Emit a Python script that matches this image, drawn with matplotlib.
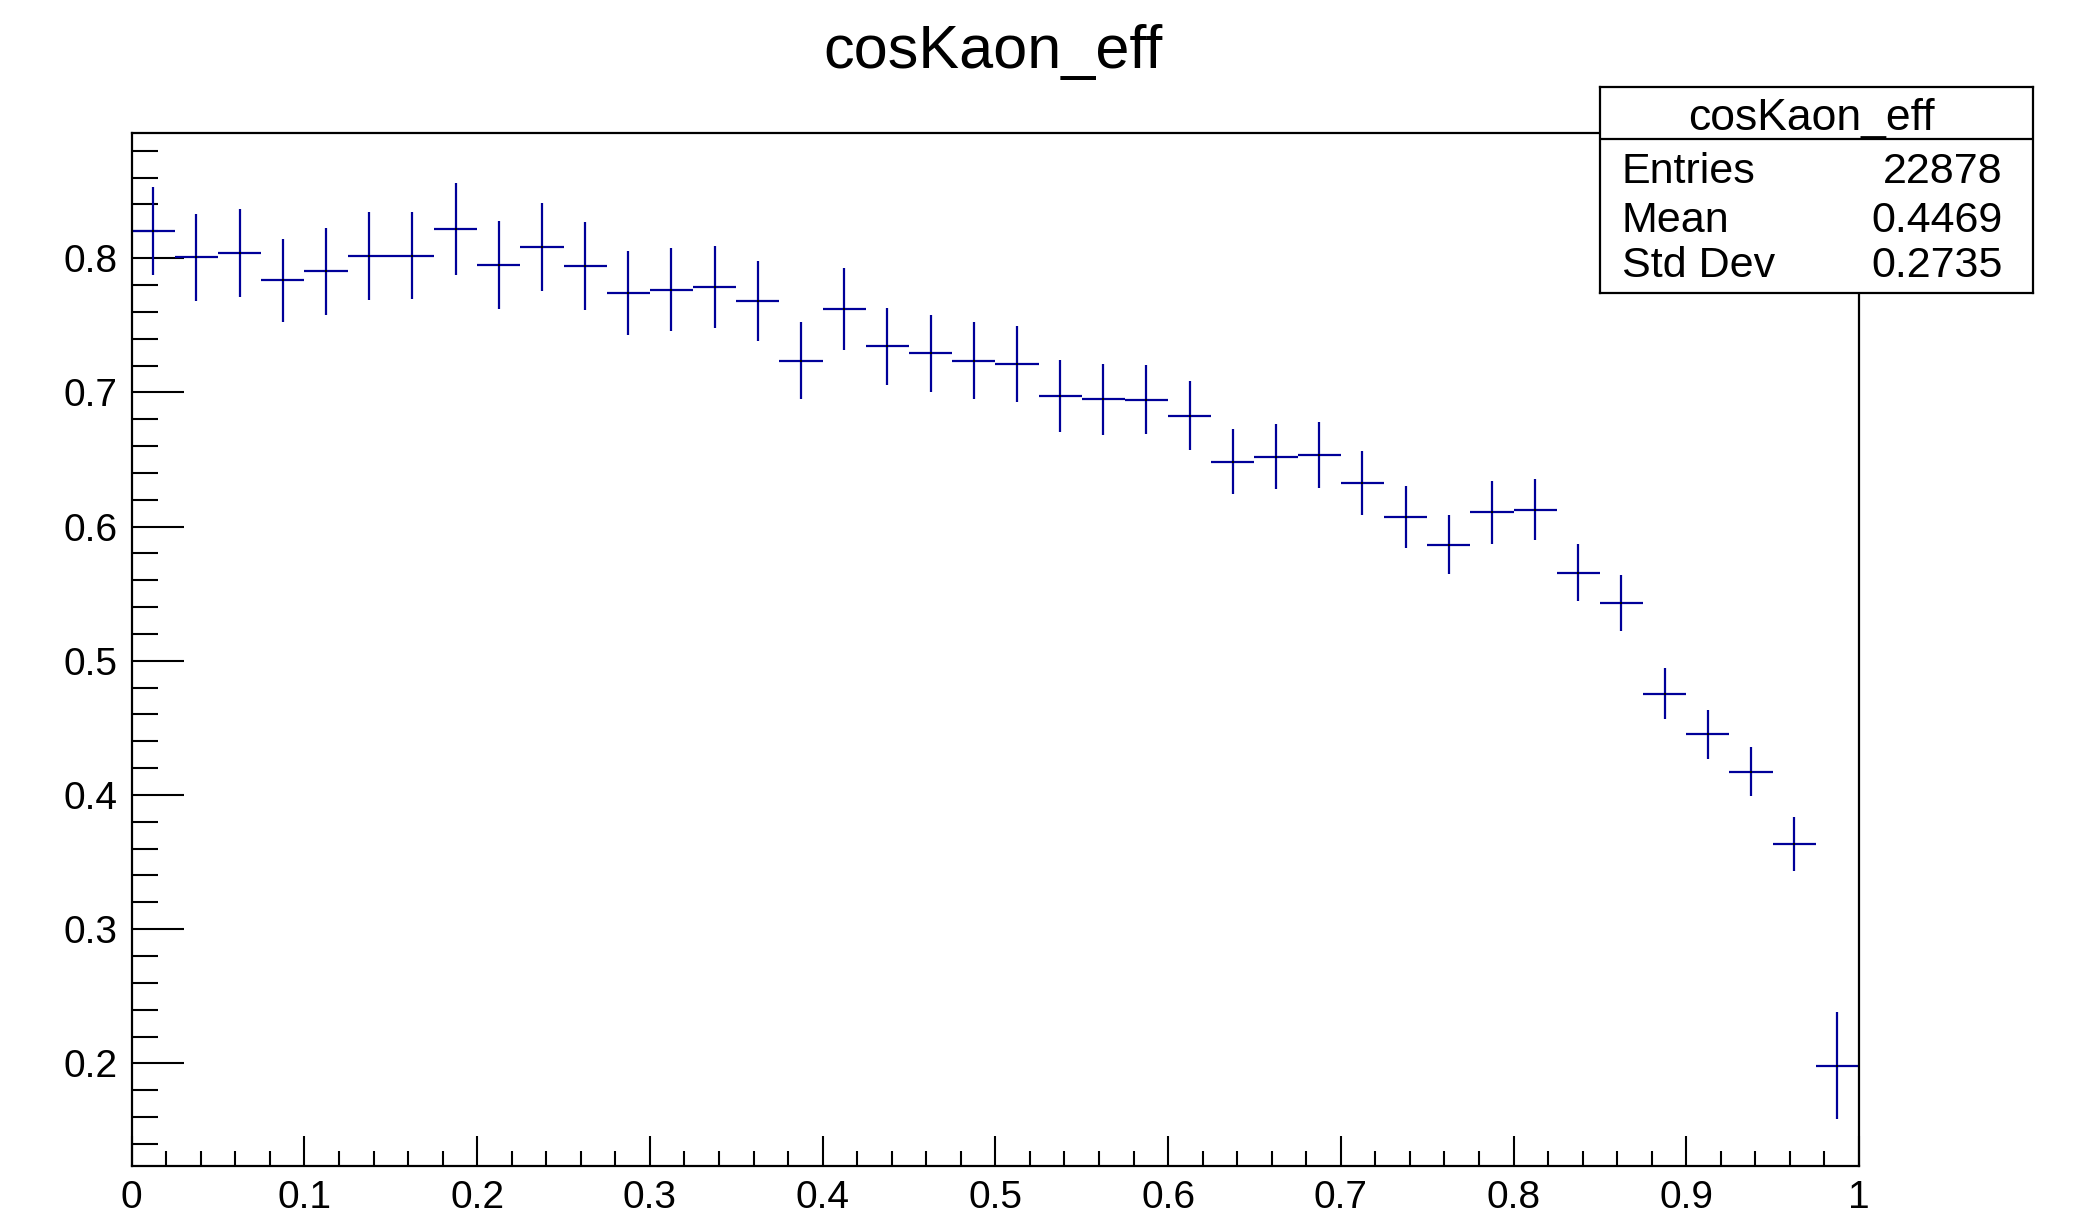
import numpy as np
import matplotlib
matplotlib.use("Agg")
import matplotlib.pyplot as plt
from matplotlib.ticker import MultipleLocator, FuncFormatter

plt.rcParams['font.family'] = ['Liberation Sans', 'DejaVu Sans']

# Histogram binning and contents
bin_lo, bin_hi, n_bins = 0.0, 1.0, 40
efficiency = [0.8206, 0.8007, 0.8037, 0.7834, 0.7903, 0.8018, 0.8018, 0.8219, 0.7948, 0.8085,
              0.7943, 0.7740, 0.7765, 0.7787, 0.7683, 0.7236, 0.7623, 0.7343, 0.7290, 0.7236,
              0.7213, 0.6973, 0.6948, 0.6946, 0.6826, 0.6484, 0.6521, 0.6531, 0.6325, 0.6071,
              0.5864, 0.6105, 0.6127, 0.5657, 0.5428, 0.4756, 0.4452, 0.4174, 0.3637, 0.1983]
efficiency_err = [0.0328, 0.0325, 0.0330, 0.0311, 0.0323, 0.0329, 0.0324, 0.0344, 0.0330, 0.0328,
                  0.0326, 0.0310, 0.0310, 0.0307, 0.0298, 0.0285, 0.0304, 0.0287, 0.0285, 0.0287,
                  0.0284, 0.0267, 0.0262, 0.0259, 0.0257, 0.0243, 0.0244, 0.0247, 0.0236, 0.0230,
                  0.0220, 0.0232, 0.0226, 0.0215, 0.0209, 0.0190, 0.0184, 0.0182, 0.0201, 0.0399]

hist_name = "cosKaon_eff"
stat_labels = ["Entries", "Mean", "Std Dev"]
stat_values = ["22878", "0.4469", "0.2735"]

edges = np.linspace(bin_lo, bin_hi, n_bins + 1)
centers = 0.5 * (edges[:-1] + edges[1:])
half_width = 0.5 * (edges[1] - edges[0])

W, H = 2073, 1224
fig = plt.figure(figsize=(W / 100, H / 100), dpi=100)
ax = fig.add_axes([131.7 / W, 1 - 1166 / H, (1859 - 131.7) / W, (1166 - 132.7) / H])

blue = '#000099'
ax.errorbar(centers, efficiency, xerr=half_width, yerr=efficiency_err,
            fmt='none', ecolor=blue, elinewidth=1.6, capsize=0)
ax.plot(centers, efficiency, linestyle='none', marker='s', markersize=1.6,
        color='black', markeredgewidth=0)

ax.set_xlim(0, 1)
ax.set_ylim(0.1235, 0.8935)

for s in ax.spines.values():
    s.set_linewidth(1.6)

ax.xaxis.set_major_locator(MultipleLocator(0.1))
ax.xaxis.set_minor_locator(MultipleLocator(0.02))
ax.yaxis.set_major_locator(MultipleLocator(0.1))
ax.yaxis.set_minor_locator(MultipleLocator(0.02))

def fmt(v, pos):
    if abs(v) < 1e-9:
        return "0"
    if abs(v - 1) < 1e-9:
        return "1"
    return f"{v:.1f}"

ax.xaxis.set_major_formatter(FuncFormatter(fmt))
ax.yaxis.set_major_formatter(FuncFormatter(fmt))

ax.tick_params(axis='x', which='major', direction='in', length=21.6, width=1.5,
               labelsize=28, pad=10, top=False)
ax.tick_params(axis='x', which='minor', direction='in', length=10.8, width=1.5, top=False)
ax.tick_params(axis='y', which='major', direction='in', length=37.4, width=1.5,
               labelsize=28, pad=10, right=False)
ax.tick_params(axis='y', which='minor', direction='in', length=18.7, width=1.5, right=False)

fig.text(993 / W, 1 - 68 / H, hist_name, ha='center', va='baseline', fontsize=44)

# Statistics box
bx0, bx1, by0, by1 = 1600, 2032.7, 87.3, 293.3
sax = fig.add_axes([bx0 / W, 1 - by1 / H, (bx1 - bx0) / W, (by1 - by0) / H], zorder=5)
sax.set_facecolor('white')
sax.set_xticks([])
sax.set_yticks([])
sax.set_xlim(0, 1)
sax.set_ylim(0, 1)
for s in sax.spines.values():
    s.set_linewidth(1.6)
sax.axhline(0.748, color='black', linewidth=1.6)
sax.text(0.488, 0.793, hist_name, ha='center', va='baseline', fontsize=32)
for lab, val, yb in zip(stat_labels, stat_values, [0.535, 0.299, 0.081]):
    sax.text(0.050, yb, lab, ha='left', va='baseline', fontsize=31)
    sax.text(0.931, yb, val, ha='right', va='baseline', fontsize=31)

fig.savefig("out.png", dpi=100)
